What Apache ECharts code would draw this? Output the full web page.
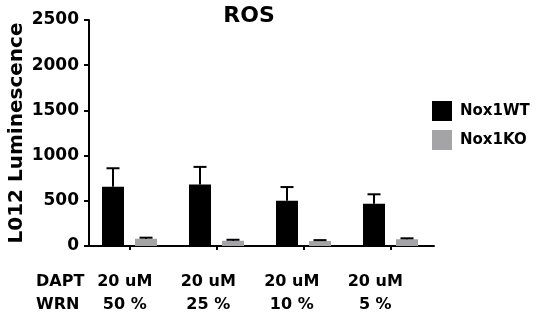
<!DOCTYPE html>
<html>
<head>
<meta charset="utf-8">
<script src="https://cdn.jsdelivr.net/npm/echarts@6/dist/echarts.min.js"></script>
<style>html,body{margin:0;padding:0;background:#fff}#c{width:536px;height:322px}</style>
</head>
<body>
<div id="c"></div>
<script>
const categories = ['A', 'B', 'C', 'D'];
const dapt = ['20 uM', '20 uM', '20 uM', '20 uM'];
const wrn = ['50 %', '25 %', '10 %', '5 %'];
const wtValues = [655, 680, 500, 468];
const wtErrors = [205, 195, 152, 104];
const koValues = [80, 58, 55, 75];
const koErrors = [12, 11, 10, 10];
const yTicks = [0, 500, 1000, 1500, 2000, 2500];

const FONT = 'DejaVu Sans';
const chart = echarts.init(document.getElementById('c'), null, {renderer: 'canvas'});

function errSeries(values, errors, offset) {
  return {
    type: 'custom',
    xAxisIndex: 0, yAxisIndex: 0,
    z: 5,
    silent: true,
    data: values.map((v, i) => [i, v, errors[i]]),
    renderItem: function (params, api) {
      const i = api.value(0), v = api.value(1), e = api.value(2);
      const p0 = api.coord([i, v]);
      const p1 = api.coord([i, v + e]);
      const x = p0[0] + offset;
      const style = {stroke: '#000', lineWidth: 2};
      return {
        type: 'group',
        children: [
          {type: 'line', shape: {x1: x, y1: p0[1], x2: x, y2: p1[1]}, style: style},
          {type: 'line', shape: {x1: x - 6.5, y1: p1[1], x2: x + 6.5, y2: p1[1]}, style: style}
        ]
      };
    }
  };
}

const option = {
  animation: false,
  backgroundColor: '#fff',
  title: [
    {text: 'ROS', left: 249, top: 5, padding: 0, textAlign: 'center',
     textStyle: {fontFamily: FONT, fontWeight: 'bold', fontSize: 22, color: '#000'}},
    {text: 'DAPT\nWRN', left: 36, top: 270, padding: 0,
     textStyle: {fontFamily: FONT, fontWeight: 'bold', fontSize: 16, lineHeight: 23, color: '#000'}}
  ],
  legend: {
    orient: 'vertical', left: 432, top: 101, padding: 0,
    itemWidth: 20, itemHeight: 20, itemGap: 9, icon: 'rect',
    data: ['Nox1WT', 'Nox1KO'],
    textStyle: {fontFamily: FONT, fontWeight: 'bold', fontSize: 15, color: '#000', padding: [0, 0, 0, 3]}
  },
  grid: [
    {left: 86, width: 348, top: 20, height: 226, containLabel: false, outerBoundsMode: 'none'},
    {left: 83, width: 334, top: 20, height: 226, containLabel: false, outerBoundsMode: 'none'}
  ],
  xAxis: [
    {type: 'category', gridIndex: 0, data: categories, boundaryGap: true,
     axisLine: {lineStyle: {color: '#000', width: 2}},
     axisTick: {show: true, alignWithLabel: true, length: 4, lineStyle: {color: '#000', width: 2}},
     axisLabel: {show: false}},
    {type: 'category', gridIndex: 1, data: dapt.map((d, i) => d + '\n' + wrn[i]), boundaryGap: true,
     axisLine: {show: false}, axisTick: {show: false},
     axisLabel: {show: true, margin: 24, fontFamily: FONT, fontWeight: 'bold', fontSize: 16, lineHeight: 23, color: '#000'}}
  ],
  yAxis: [
    {type: 'value', gridIndex: 0, min: yTicks[0], max: yTicks[yTicks.length - 1], interval: 500, offset: -3,
     name: 'L012 Luminescence', nameLocation: 'middle', nameGap: 62, nameMoveOverlap: false,
     nameTextStyle: {fontFamily: FONT, fontWeight: 'bold', fontSize: 20, color: '#000'},
     axisLine: {show: true, lineStyle: {color: '#000', width: 2}},
     axisTick: {show: true, length: 5, lineStyle: {color: '#000', width: 2}},
     splitLine: {show: false},
     axisLabel: {margin: 10, fontFamily: FONT, fontWeight: 'bold', fontSize: 17, color: '#000',
                 formatter: v => String(v)}},
    {type: 'value', gridIndex: 1, show: false, min: 0, max: 2500}
  ],
  series: [
    {name: 'Nox1WT', type: 'bar', data: wtValues, barWidth: 22, barGap: '50%',
     itemStyle: {color: '#000'}, z: 2},
    {name: 'Nox1KO', type: 'bar', data: koValues, barWidth: 22, barGap: '50%',
     itemStyle: {color: '#a4a4a7'}, z: 2},
    errSeries(wtValues, wtErrors, -16.5),
    errSeries(koValues, koErrors, 16.5)
  ]
};
chart.setOption(option);
</script>
</body>
</html>
